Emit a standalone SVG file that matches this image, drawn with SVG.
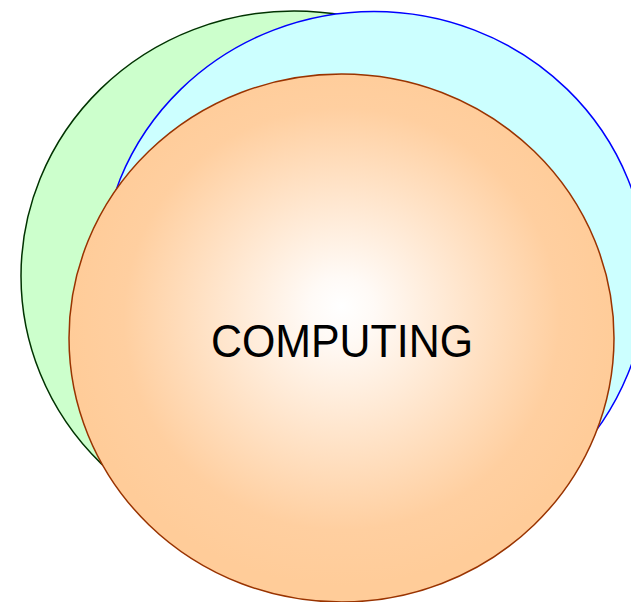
<svg xmlns="http://www.w3.org/2000/svg" width="631" height="602" viewBox="0 0 631 602">
  <style>
    .label { font-family: "Liberation Sans", Arial, sans-serif; font-size: 47px; fill: #000000; }
  </style>
  <defs>
    <radialGradient id="orangeGrad" cx="50%" cy="47%" r="50%" fx="50%" fy="44%">
      <stop offset="0" stop-color="#ffffff"/>
      <stop offset="0.12" stop-color="#fffaf6"/>
      <stop offset="0.8" stop-color="#ffcfa0"/>
      <stop offset="1" stop-color="#ffcc99"/>
    </radialGradient>
  </defs>
  <g id="green">
    <ellipse cx="294" cy="276" rx="273" ry="265" fill="#ccffcc" stroke="#003300" stroke-width="1.5"/>
  </g>
  <g id="blue">
    <ellipse cx="374" cy="276.5" rx="273" ry="265" fill="#ccffff" stroke="#0000ff" stroke-width="1.5"/>
  </g>
  <g id="computing">
    <ellipse cx="341.5" cy="338" rx="272.5" ry="264" fill="url(#orangeGrad)" stroke="#993300" stroke-width="1.5"/>
    <text class="label" x="342" y="356.5" text-anchor="middle" textLength="262" lengthAdjust="spacingAndGlyphs">COMPUTING</text>
  </g>
  <g id="connectors"/>
</svg>
